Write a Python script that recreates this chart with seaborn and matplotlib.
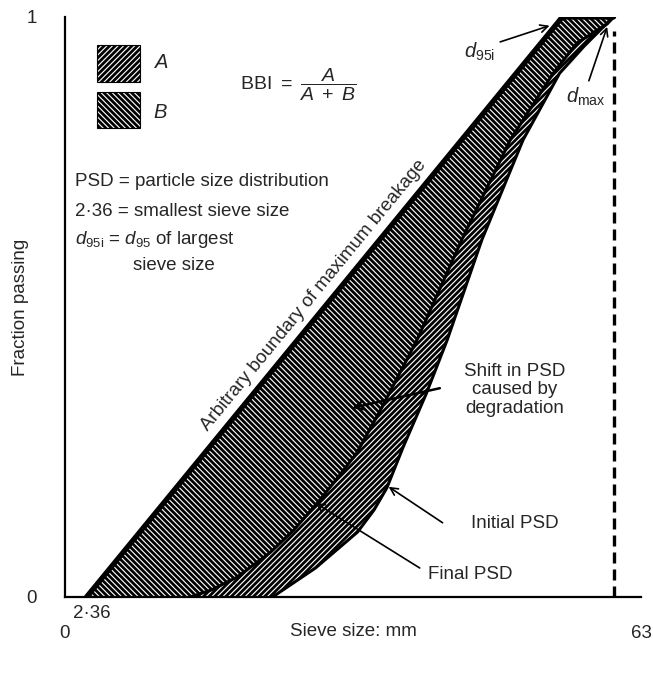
import numpy as np
import pandas as pd
import matplotlib
matplotlib.use("Agg")
import matplotlib.pyplot as plt
import seaborn as sns
from matplotlib.patches import Rectangle

# boundary of maximum breakage, final and initial PSD
boundary_x = [2.36, 54.4, 60.0]
boundary_y = [0.0, 1.0, 1.0]

final_x = [13.7, 16.0, 18.8, 22.4, 25.0, 27.6, 29.8, 31.9, 34.5, 38.5, 43.4, 48.7, 53.4, 56.0, 58.0, 59.3, 60.0]
final_y = [0.0, 0.012, 0.034, 0.076, 0.115, 0.162, 0.205, 0.248, 0.322, 0.443, 0.616, 0.788, 0.903, 0.955, 0.975, 0.988, 1.0]

initial_x = [22.7, 27.4, 32.0, 33.8, 35.2, 37.0, 39.5, 41.8, 45.6, 50.1, 54.1, 56.8, 58.7, 60.0]
initial_y = [0.0, 0.05, 0.112, 0.15, 0.188, 0.259, 0.35, 0.443, 0.616, 0.788, 0.903, 0.950, 0.980, 1.0]

d_min = 2.36
d_max = 60.0
x_ticks = [0, 63]
y_ticks = [0, 1]

sns.set_style("white")
plt.rcParams["font.family"] = ["Liberation Sans", "DejaVu Sans"]
plt.rcParams["mathtext.fontset"] = "custom"
plt.rcParams["mathtext.rm"] = "Liberation Sans"
plt.rcParams["mathtext.it"] = "Liberation Sans:italic"
plt.rcParams["mathtext.bf"] = "Liberation Sans:bold"
plt.rcParams["hatch.linewidth"] = 2.0
plt.rcParams["font.size"] = 13.5

fig = plt.figure(figsize=(6.53, 6.90), dpi=100)
ax = fig.add_axes([0.0995, 0.1348, 0.8821, 0.8406])
ax.set_xlim(0, 63)
ax.set_ylim(0, 1)

# hatched areas A (boundary -> final) and B (final -> initial)
a_x = boundary_x + final_x[::-1]
a_y = boundary_y + final_y[::-1]
ax.fill(a_x, a_y, facecolor="white", edgecolor="black", hatch="\\" * 6, lw=0, zorder=1)
b_x = final_x + initial_x[::-1]
b_y = final_y + initial_y[::-1]
ax.fill(b_x, b_y, facecolor="white", edgecolor="black", hatch="/" * 6, lw=0, zorder=1)

sns.lineplot(x=boundary_x, y=boundary_y, sort=False, estimator=None, color="black", lw=3.8, ax=ax, zorder=3)
sns.lineplot(x=final_x, y=final_y, sort=False, estimator=None, color="black", lw=2.2, ax=ax, zorder=3)
sns.lineplot(x=initial_x, y=initial_y, sort=False, estimator=None, color="black", lw=2.2, ax=ax, zorder=3)
ax.plot([d_max, d_max], [0, 0.975], color="black", lw=2.4, ls=(0, (3.3, 1.8)), zorder=3)

# axes styling
sns.despine(ax=ax)
for s in ["left", "bottom"]:
    ax.spines[s].set_linewidth(1.6)
    ax.spines[s].set_color("black")
ax.set_xticks(x_ticks)
ax.set_yticks(y_ticks)
ax.set_xticklabels([str(t) for t in x_ticks])
ax.set_yticklabels([str(t) for t in y_ticks])
ax.tick_params(axis="y", direction="out", length=14, width=1.6, pad=6, labelsize=13.5)
ax.tick_params(axis="x", direction="out", length=11, width=1.6, pad=9, labelsize=13.5)
ax.set_xlabel("Sieve size: mm", fontsize=13.5)
ax.set_ylabel("Fraction passing", fontsize=13.5)
ax.xaxis.set_label_coords(0.5, -0.045)
ax.yaxis.set_label_coords(-0.063, 0.5)
ax.text(0.9, -0.028, "2·36", transform=ax.get_xaxis_transform(), ha="left", va="center")

# key boxes
ax.add_patch(Rectangle((3.5, 0.888), 4.7, 0.064, facecolor="white", edgecolor="black", hatch="//////", lw=0.8))
ax.add_patch(Rectangle((3.5, 0.809), 4.7, 0.062, facecolor="white", edgecolor="black", hatch="\\\\\\\\\\\\", lw=0.8))
ax.text(9.6, 0.921, "$A$", fontsize=14.5, va="center")
ax.text(9.6, 0.836, "$B$", fontsize=14.5, va="center")
ax.text(19.1, 0.883, r"BBI $=\ \dfrac{A}{A\ +\ B}$", fontsize=14, va="center")

ax.text(1.1, 0.716, "PSD = particle size distribution", va="center")
ax.text(1.1, 0.664, "2·36 = smallest sieve size", va="center")
ax.text(1.1, 0.616, "$d_{95\\mathrm{i}}$ = $d_{95}$ of largest", va="center")
ax.text(7.4, 0.571, "sieve size", va="center")

# label along the boundary line
p1 = ax.transData.transform((boundary_x[0], boundary_y[0]))
p2 = ax.transData.transform((boundary_x[1], boundary_y[1]))
angle = np.degrees(np.arctan2(p2[1] - p1[1], p2[0] - p1[0]))
ax.text(27.2, 0.52, "Arbitrary boundary of maximum breakage", rotation=angle,
        rotation_mode="anchor", ha="center", va="center")

arrow = dict(arrowstyle="->", color="black", lw=1.2, shrinkA=0, shrinkB=0)
ax.text(49.2, 0.357, "Shift in PSD\ncaused by\ndegradation", ha="center", va="center", linespacing=1.1)
ax.annotate("", xy=(31.4, 0.326), xytext=(41.0, 0.36), arrowprops=dict(arrow, lw=1.8))
ax.text(49.2, 0.126, "Initial PSD", ha="center", va="center")
ax.annotate("", xy=(35.4, 0.19), xytext=(41.3, 0.128), arrowprops=arrow)
ax.text(44.3, 0.038, "Final PSD", ha="center", va="center")
ax.annotate("", xy=(27.4, 0.162), xytext=(38.8, 0.05), arrowprops=arrow)
ax.text(45.4, 0.94, "$d_{95\\mathrm{i}}$", ha="center", va="center", fontsize=14.5)
ax.annotate("", xy=(53.0, 0.985), xytext=(47.6, 0.957), arrowprops=arrow)
ax.text(57.0, 0.862, "$d_{\\mathrm{max}}$", ha="center", va="center", fontsize=14.5)
ax.annotate("", xy=(59.3, 0.983), xytext=(57.3, 0.89), arrowprops=arrow)

fig.savefig("out.png", dpi=100, facecolor="white")
